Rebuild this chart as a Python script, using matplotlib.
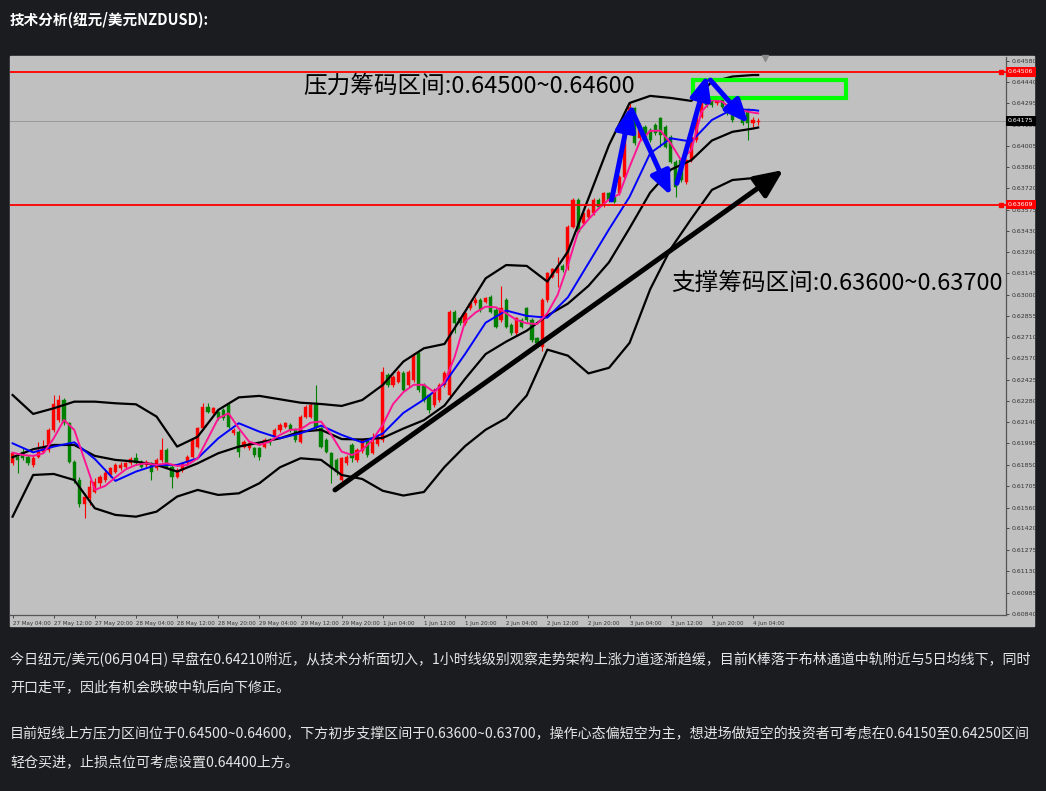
import numpy as np
import matplotlib.pyplot as plt
from matplotlib.patches import Rectangle

plt.rcParams['font.family'] = ['Noto Sans CJK SC', 'DejaVu Sans']

# NZDUSD 1小时K线, 单位: 0.00001
opens = [61859, 61904, 61938, 61904, 61848, 61900, 61938, 61949, 62085, 62152,
         62287, 62130, 61870, 61746, 61584, 61622, 61668, 61724, 61746, 61780,
         61803, 61825, 61832, 61859, 61893, 61870, 61848, 61859, 61825, 61882,
         61949, 61837, 61769, 61814, 61859, 61904, 61972, 62096, 62242, 62197,
         62209, 62220, 62254, 62062, 62073, 61972, 61960, 61960, 61960, 61972,
         62017, 62039, 62085, 62107, 62118, 62085, 62006, 62175, 62175, 62254,
         62096, 62017, 61927, 61882, 61746, 61859, 61983, 61882, 61943, 62017,
         61930, 61990, 62017, 62456, 62389, 62410, 62470, 62389, 62423, 62605,
         62389, 62321, 62254, 62287, 62389, 62321, 62885, 62840, 62806, 62907,
         62941, 62964, 62952, 62986, 62896, 62829, 62964, 62795, 62738, 62829,
         62907, 62829, 62705, 62648, 62964, 63122, 63144, 63193, 63178, 63460,
         63640, 63482, 63527, 63550, 63640, 63606, 63685, 63663, 63685, 63798,
         64113, 64260, 64057, 64136, 64113, 64147, 64192, 64136, 64068, 63900,
         63910, 63764, 63910, 64046, 64204, 64340, 64316, 64294, 64316, 64271,
         64237, 64260, 64249, 64249, 64158, 64170]
highs = [61938, 61916, 61960, 61916, 61916, 62006, 62017, 62096, 62321, 62321,
         62299, 62141, 61882, 61769, 61656, 61746, 61757, 61780, 61814, 61837,
         61859, 61865, 61870, 61900, 61927, 61882, 61882, 61865, 61893, 62028,
         61960, 61848, 61825, 61870, 61916, 62028, 62107, 62265, 62265, 62242,
         62220, 62231, 62276, 62096, 62085, 62017, 62006, 61972, 61972, 62028,
         62028, 62096, 62130, 62141, 62130, 62096, 62186, 62254, 62265, 62389,
         62107, 62028, 61938, 61893, 61904, 61916, 61995, 61960, 62028, 62030,
         62062, 62050, 62510, 62470, 62456, 62490, 62480, 62490, 62605, 62615,
         62400, 62330, 62365, 62400, 62480, 62895, 62895, 62851, 62885, 62952,
         62986, 62975, 62986, 62997, 62907, 63058, 62975, 62806, 62851, 62840,
         62918, 62840, 62716, 62975, 63155, 63182, 63257, 63205, 63470, 63652,
         63652, 63562, 63584, 63652, 63652, 63697, 63697, 63675, 63810, 64125,
         64294, 64271, 64158, 64147, 64125, 64158, 64204, 64147, 64079, 63910,
         63920, 63920, 64079, 64237, 64440, 64361, 64330, 64330, 64330, 64282,
         64249, 64271, 64260, 64260, 64204, 64192]
lows = [61848, 61791, 61882, 61848, 61837, 61893, 61927, 61938, 62073, 62141,
        62120, 61859, 61724, 61566, 61487, 61577, 61656, 61701, 61735, 61769,
        61791, 61814, 61825, 61848, 61848, 61825, 61837, 61746, 61814, 61870,
        61825, 61690, 61757, 61803, 61848, 61893, 61960, 62085, 62197, 62186,
        62152, 62152, 62096, 62051, 61904, 61960, 61949, 61904, 61882, 61960,
        61983, 62028, 62073, 62096, 62073, 62006, 61994, 62164, 62164, 62085,
        61960, 61927, 61724, 61780, 61735, 61848, 61870, 61870, 61930, 61905,
        61920, 61975, 62000, 62378, 62375, 62400, 62345, 62378, 62410, 62340,
        62275, 62200, 62240, 62275, 62378, 62300, 62738, 62795, 62795, 62896,
        62930, 62885, 62941, 62874, 62772, 62818, 62772, 62727, 62727, 62772,
        62818, 62682, 62660, 62620, 62952, 63110, 63054, 63155, 63167, 63450,
        63415, 63470, 63516, 63539, 63584, 63595, 63629, 63618, 63675, 63787,
        64102, 64012, 64046, 64035, 64035, 64079, 64001, 63990, 63890, 63663,
        63764, 63750, 63899, 64035, 64192, 64271, 64271, 64282, 64260, 64215,
        64170, 64192, 64147, 64046, 64136, 64147]
closes = [61927, 61882, 61893, 61859, 61893, 61945, 61960, 62085, 62260, 62287,
          62130, 61870, 61746, 61584, 61634, 61701, 61735, 61764, 61791, 61825,
          61848, 61848, 61859, 61888, 61859, 61837, 61870, 61803, 61882, 61949,
          61837, 61769, 61814, 61859, 61900, 62017, 62096, 62242, 62209, 62231,
          62164, 62164, 62107, 62085, 61938, 62006, 61994, 61916, 61904, 62017,
          61994, 62085, 62118, 62130, 62085, 62017, 62175, 62242, 62254, 62096,
          61972, 61938, 61825, 61803, 61893, 61904, 61895, 61949, 62017, 61916,
          62000, 62030, 62475, 62389, 62443, 62477, 62355, 62477, 62592, 62355,
          62287, 62220, 62355, 62389, 62470, 62882, 62806, 62806, 62874, 62941,
          62964, 62896, 62975, 62885, 62783, 62907, 62783, 62738, 62840, 62783,
          62829, 62693, 62671, 62964, 63144, 63171, 63178, 63167, 63460, 63640,
          63426, 63550, 63572, 63640, 63595, 63685, 63640, 63629, 63798, 64113,
          64271, 64023, 64147, 64046, 64046, 64091, 64079, 64001, 63900, 63730,
          63775, 63910, 64068, 64226, 64418, 64282, 64282, 64316, 64271, 64226,
          64181, 64204, 64158, 64158, 64181, 64175]

# 均线与布林通道 (读图取样)
ma5_bars = list(range(0, 145, 2)) + [145]
ma5 = [61931, 61915, 61909, 61927, 62028, 62152, 62085, 61882, 61679, 61706,
       61764, 61818, 61848, 61859, 61848, 61859, 61841, 61848, 61893, 62028,
       62163, 62197, 62096, 62006, 61983, 62006, 62051, 62085, 62089, 62134,
       62141, 62051, 61938, 61915, 61950, 62017, 62120, 62260, 62340, 62390,
       62390, 62340, 62409, 62581, 62817, 62878, 62919, 62914, 62874, 62829,
       62806, 62801, 62874, 62998, 63200, 63426, 63509, 63584, 63644, 63680,
       63865, 64035, 64107, 64109, 64023, 63910, 63978, 64237, 64316, 64305,
       64249, 64244, 64231, 64226]
band_bars = list(range(0, 145, 4)) + [145]
ma10 = [61994, 61933, 61972, 62001, 61888, 61740, 61803, 61848, 61848, 61893,
        62028, 62130, 62073, 62028, 62062, 62114, 62051, 62000, 62060, 62200,
        62290, 62400, 62598, 62810, 62892, 62856, 62844, 62982, 63212, 63442,
        63662, 63956, 64057, 64035, 64181, 64253, 64249, 64244]
boll_up = [62321, 62193, 62231, 62276, 62276, 62265, 62258, 62175, 61972, 62039,
           62220, 62305, 62315, 62292, 62269, 62260, 62247, 62287, 62389, 62547,
           62637, 62666, 62885, 63110, 63200, 63194, 63088, 63291, 63651, 64012,
           64296, 64344, 64330, 64310, 64438, 64475, 64485, 64485]
boll_mid = [61900, 61954, 61983, 61983, 61909, 61882, 61870, 61848, 61803, 61859,
            61927, 61972, 61999, 62028, 62073, 62085, 62023, 62020, 62031, 62094,
            62151, 62250, 62430, 62598, 62682, 62756, 62858, 62939, 63059, 63219,
            63450, 63690, 63845, 63909, 64042, 64101, 64123, 64130]
boll_low = [61498, 61780, 61787, 61746, 61555, 61510, 61498, 61532, 61634, 61679,
            61645, 61656, 61724, 61832, 61893, 61882, 61780, 61753, 61673, 61641,
            61665, 61834, 61975, 62086, 62164, 62318, 62628, 62587, 62467, 62505,
            62674, 63036, 63310, 63513, 63708, 63775, 63788, 63788]

x_labels = ['27 May 04:00', '27 May 12:00', '27 May 20:00', '28 May 04:00', '28 May 12:00',
            '28 May 20:00', '29 May 04:00', '29 May 12:00', '29 May 20:00', '1 Jun 04:00',
            '1 Jun 12:00', '1 Jun 20:00', '2 Jun 04:00', '2 Jun 12:00', '2 Jun 20:00',
            '3 Jun 04:00', '3 Jun 12:00', '3 Jun 20:00', '4 Jun 04:00']
y_ticks = [0.64580, 0.64440, 0.64295, 0.64150, 0.64005, 0.63860, 0.63720, 0.63575, 0.63430,
           0.63290, 0.63145, 0.63000, 0.62855, 0.62710, 0.62570, 0.62425, 0.62280, 0.62140,
           0.61995, 0.61850, 0.61705, 0.61560, 0.61420, 0.61275, 0.61130, 0.60985, 0.60840]
resist_line = 0.64506
support_line = 0.63609
last_price = 0.64175

o = np.array(opens) / 1e5
h = np.array(highs) / 1e5
l = np.array(lows) / 1e5
c = np.array(closes) / 1e5
bars = np.arange(len(c))

W, H = 1046, 791
fig = plt.figure(figsize=(W / 100, H / 100), dpi=100, facecolor='#1b1c20')
fig.patches.append(Rectangle((10 / W, 1 - 626 / H), 1024 / W, 570 / H,
                             transform=fig.transFigure, color='#c0c0c0', zorder=-5))
ax = fig.add_axes([10 / W, 1 - 615 / H, 996 / W, 558 / H])
ax.set_facecolor('#c0c0c0')
ax.set_xlim(-0.5, 193.2)
ax.set_ylim(0.60833, 0.64607)

# K线: 红涨绿跌
up = c >= o
cols = np.where(up, '#ff0000', '#008000')
ax.vlines(bars, l, h, colors=cols, lw=0.8, zorder=2)
ax.bar(bars, np.maximum(np.abs(c - o), 0.00002), bottom=np.minimum(o, c), width=0.62,
       color=cols, edgecolor=cols, lw=0.3, zorder=3)

ax.plot(band_bars, np.array(boll_up) / 1e5, color='black', lw=1.6, zorder=4)
ax.plot(band_bars, np.array(boll_mid) / 1e5, color='black', lw=1.6, zorder=4)
ax.plot(band_bars, np.array(boll_low) / 1e5, color='black', lw=1.6, zorder=4)
ax.plot(band_bars, np.array(ma10) / 1e5, color='#0000ff', lw=1.4, zorder=5)
ax.plot(ma5_bars, np.array(ma5) / 1e5, color='#ff1493', lw=1.4, zorder=5)

ax.axhline(resist_line, color='#ff0000', lw=1.3, zorder=6)
ax.axhline(support_line, color='#ff0000', lw=1.3, zorder=6)
ax.axhline(last_price, color='#9a9a9a', lw=0.7, zorder=1)
ax.plot([192.2, 192.2], [resist_line, support_line], 's', ms=2.5, color='#ff0000', zorder=6)
ax.plot([146.4], [0.64600], 'v', ms=4, color='#8a8a8a', clip_on=False, zorder=6)

# 坐标轴
for s in ['top', 'left']:
    ax.spines[s].set_visible(False)
for s in ['right', 'bottom']:
    ax.spines[s].set_color('#555555')
    ax.spines[s].set_linewidth(0.9)
ax.yaxis.tick_right()
ax.set_yticks(y_ticks)
ax.set_yticklabels([f'{v:.5f}' for v in y_ticks], fontsize=4.5, color='#222222', family='DejaVu Sans')
ax.tick_params(axis='y', direction='out', length=2.5, width=0.6, colors='#333333', pad=1.5)
ax.set_xticks(range(0, 145, 8))
ax.set_xticklabels(x_labels, fontsize=4, ha='left', color='#222222', family='DejaVu Sans')
ax.tick_params(axis='x', direction='out', length=2.5, width=0.6, colors='#333333', pad=1.5)

ytr = ax.get_yaxis_transform()
for val, bg in [(resist_line, '#ff0000'), (support_line, '#ff0000'), (last_price, '#000000')]:
    ax.text(1.002, val, f'{val:.5f}', transform=ytr, fontsize=4.5, color='white',
            va='center', ha='left', family='DejaVu Sans', zorder=10, clip_on=False,
            bbox=dict(boxstyle='square,pad=0.35', fc=bg, ec='none'))

# 标注
ax.text(56.5, 0.64411, '压力筹码区间:0.64500~0.64600', fontsize=17, color='black', va='center', zorder=8)
ax.text(128.0, 0.63072, '支撑筹码区间:0.63600~0.63700', fontsize=17, color='black', va='center', zorder=8)
ax.add_patch(Rectangle((132.4, 0.64330), 29.7, 0.00122, fill=False, ec='#00ff00', lw=3, zorder=8))

blue_head = '-|>,head_length=0.7,head_width=0.3'
for start, tip in [((116.5, 0.63640), (120.2, 0.64271)),
                   ((120.4, 0.64249), (128.0, 0.63670)),
                   ((129.2, 0.63753), (135.1, 0.64485)),
                   ((135.7, 0.64451), (143.1, 0.64159))]:
    ax.annotate('', xy=tip, xytext=start, zorder=9,
                arrowprops=dict(arrowstyle=blue_head, color='#0000ff', lw=3.6,
                                mutation_scale=20, shrinkA=0, shrinkB=0))
ax.annotate('', xy=(149.9, 0.63843), xytext=(62.7, 0.61679), zorder=9,
            arrowprops=dict(arrowstyle='-|>,head_length=0.85,head_width=0.38', color='black',
                            lw=3.6, mutation_scale=20, shrinkA=0, shrinkB=0))

# 页面文字
txt = '#e6e6e6'
fig.text(10 / W, 1 - 20 / H, '技术分析(纽元/美元NZDUSD):', fontsize=10.5, fontweight='bold',
         color='white', va='center')
lines = [(659, '今日纽元/美元(06月04日) 早盘在0.64210附近，从技术分析面切入，1小时线级别观察走势架构上涨力道逐渐趋缓，目前K棒落于布林通道中轨附近与5日均线下，同时'),
         (687, '开口走平，因此有机会跌破中轨后向下修正。'),
         (734, '目前短线上方压力区间位于0.64500~0.64600，下方初步支撑区间于0.63600~0.63700，操作心态偏短空为主，想进场做短空的投资者可考虑在0.64150至0.64250区间'),
         (762, '轻仓买进，止损点位可考虑设置0.64400上方。')]
for yy, s in lines:
    fig.text(10 / W, 1 - yy / H, s, fontsize=10.1, color=txt, va='center')

fig.savefig('out.png', dpi=100, facecolor=fig.get_facecolor())
